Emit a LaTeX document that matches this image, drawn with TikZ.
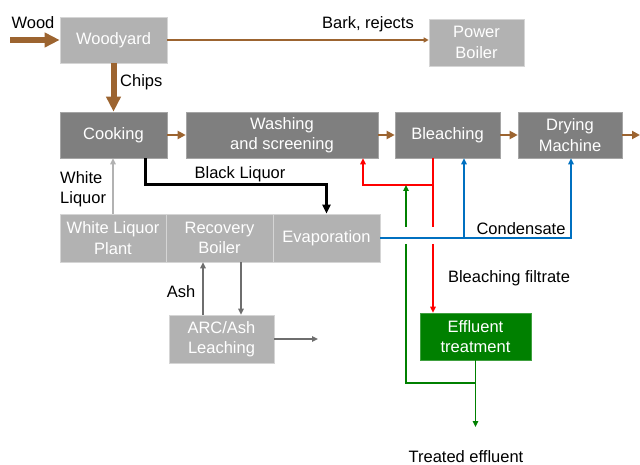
\documentclass[tikz,border=0pt]{standalone}
\usepackage{fontspec}
\setmainfont{Liberation Sans}
\usetikzlibrary{arrows.meta,shadows}

\definecolor{woodbrown}{RGB}{156,100,48}
\definecolor{boxlight}{RGB}{178,178,178}
\definecolor{boxdark}{RGB}{127,127,127}
\definecolor{condblue}{RGB}{0,112,192}
\definecolor{effgreen}{RGB}{0,128,0}
\definecolor{ashgray}{RGB}{110,110,110}

\begin{document}
\begin{tikzpicture}[x=1pt, y=-1pt, font=\fontsize{16.5}{20.5}\selectfont,
    box/.style={rectangle, inner sep=0pt, text=white, align=center, line width=0.6pt,
        general shadow={fill=black!55, shadow xshift=1.2pt, shadow yshift=-1.2pt}},
    lightbox/.style={box, fill=boxlight, draw=white!45!boxlight},
    darkbox/.style={box, fill=boxdark, draw=white!30!boxdark},
    lbl/.style={inner sep=0pt, text=black},
    bigflow/.style={woodbrown, line width=6pt, -{Triangle[length=15pt, width=14pt]}},
    pulpflow/.style={woodbrown, line width=2.6pt, -{Triangle[length=8pt, width=8pt]}},
    barkflow/.style={woodbrown, line width=1.2pt, -{Triangle[length=5pt, width=5pt]}},
    liquorflow/.style={line width=2pt, -{Triangle[length=6pt, width=5.5pt]}},
    blackflow/.style={black, line width=3pt, -{Triangle[length=9pt, width=8pt]}},
    redflow/.style={red, line width=1.8pt},
    greenflow/.style={effgreen, line width=1.8pt},
    blueflow/.style={condblue, line width=1.8pt},
    tip/.style={-{Triangle[length=6pt, width=5.5pt]}}]
    \useasboundingbox (0,0) rectangle (640,465);

    % Boxes
    \node[lightbox, minimum width=107pt, minimum height=46pt] (woodyard) at (113.5,40) {Woodyard};
    \node[lightbox, minimum width=95pt, minimum height=47pt] (power) at (476.5,42.5) {Power\\Boiler};
    \node[darkbox, minimum width=107pt, minimum height=46pt] (cook) at (113.5,135) {Cooking};
    \node[darkbox, minimum width=192pt, minimum height=46pt] (wash) at (282,135) {Washing\\and screening};
    \node[darkbox, minimum width=105pt, minimum height=46pt] (bleach) at (447.5,135) {Bleaching};
    \node[darkbox, minimum width=104pt, minimum height=46pt] (dry) at (570,135) {Drying\\Machine};
    \node[lightbox, minimum width=106pt, minimum height=48pt] (wlplant) at (113,238) {White Liquor\\Plant};
    \node[lightbox, minimum width=107pt, minimum height=48pt] (recovery) at (219.5,238) {Recovery\\Boiler};
    \node[lightbox, minimum width=107pt, minimum height=48pt] (evap) at (326.5,238) {Evaporation};
    \node[lightbox, minimum width=105pt, minimum height=48pt] (arc) at (221.5,339) {ARC/Ash\\Leaching};
    \node[box, fill=effgreen, draw=white!25!effgreen, minimum width=111pt, minimum height=47pt] (effluent) at (475.5,336.5) {Effluent\\treatment};

    % Labels
    \node[lbl] (woodlbl) at (33,23) {Wood};
    \node[lbl] (barklbl) at (368,24) {Bark, rejects};
    \node[lbl, anchor=west] (chipslbl) at (120,82) {Chips};
    \node[lbl, anchor=west, align=left] (whitelbl) at (60,189) {White\\Liquor};
    \node[lbl] (blacklbl) at (240,174) {Black Liquor};
    \node[lbl] (condlbl) at (521,229) {Condensate};
    \node[lbl] (ashlbl) at (181,292) {Ash};
    \node[lbl] (filtlbl) at (509,278) {Bleaching filtrate};
    \node[lbl] (treatlbl) at (466,457) {Treated effluent};

    % Free ends and corners
    \coordinate (woodin) at (10,40);
    \coordinate (pulpout) at (640,135);
    \coordinate (blackj) at (145,185);
    \coordinate (redj) at (433,185);
    \coordinate (redw) at (363,185);
    \coordinate (redgap) at (433,227);
    \coordinate (redgapb) at (433,244);
    \coordinate (greenj) at (406,185);
    \coordinate (greengap) at (406,227);
    \coordinate (greengapb) at (406,244);
    \coordinate (greenlow) at (406,383);
    \coordinate (bluej) at (464,238);
    \coordinate (bluer) at (571,238);
    \coordinate (ashup) at (203,0);
    \coordinate (ashdown) at (241,0);
    \coordinate (arcout) at (318,339);
    \coordinate (trout) at (475.5,427);

    % Wood and chips
    \draw[bigflow] (woodin) -- (woodyard.west);
    \draw[bigflow] (woodyard.south) -- (cook.north);
    \draw[barkflow] (woodyard.east) -- (woodyard.east -| power.west);

    % Pulp line
    \foreach \a/\b in {cook/wash, wash/bleach, bleach/dry}
        \draw[pulpflow] (\a) -- (\b);
    \draw[pulpflow] (dry.east) -- (pulpout);

    % Liquors
    \draw[liquorflow, boxlight] (wlplant.north) -- (wlplant.north |- cook.south);
    \draw[blackflow] (cook.south -| blackj) -- (blackj) -| (evap.north);
    \draw[liquorflow, ashgray] (recovery.south -| ashdown) -- (arc.north -| ashdown);
    \draw[liquorflow, ashgray] (arc.north -| ashup) -- (recovery.south -| ashup);
    \draw[liquorflow, ashgray] (arc.east) -- (arcout);

    % Bleaching filtrates
    \draw[redflow] (bleach.south -| redj) -- (redgap);
    \draw[redflow, tip] (redj) -| (redw |- wash.south);
    \draw[redflow, tip] (redgapb) -- (effluent.north -| redgapb);
    \draw[greenflow, tip] (greengap) -- (greenj);
    \draw[greenflow] (greengapb) -- (greenlow) -| (effluent.south);
    \draw[greenflow, tip] (effluent.south) -- (trout);

    % Condensate
    \draw[blueflow, tip] (evap.east) -- (bluer) -- (bluer |- dry.south);
    \draw[blueflow, tip] (bluej) -- (bluej |- bleach.south);
\end{tikzpicture}
\end{document}
